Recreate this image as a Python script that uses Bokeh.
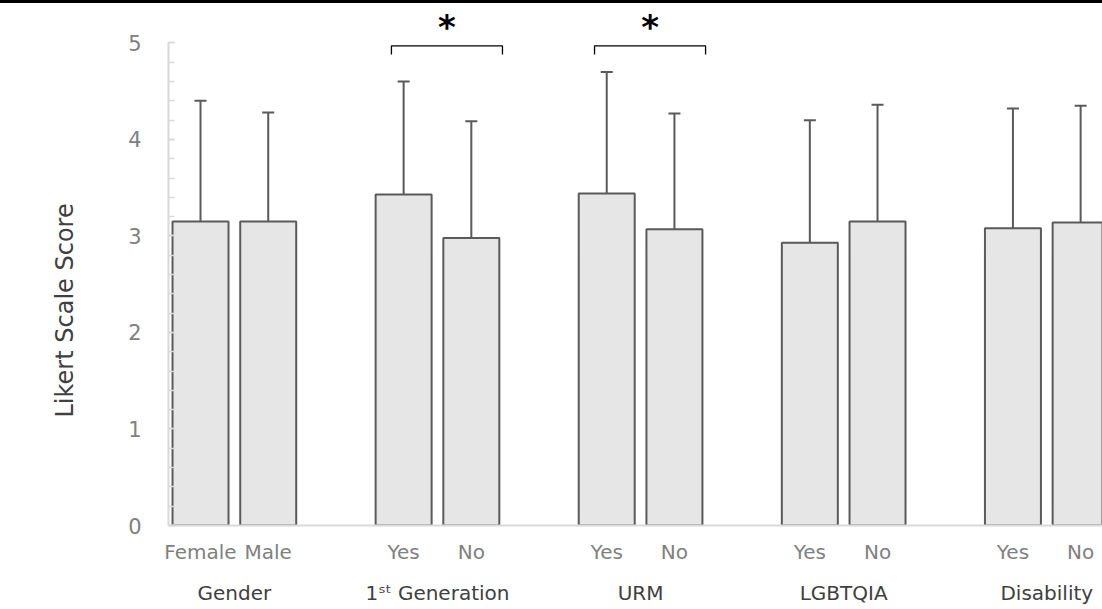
from bokeh.plotting import figure
from bokeh.models import (ColumnDataSource, Range1d, LinearAxis, FixedTicker, Title,
                          SingleIntervalTicker, Whisker, TeeHead, InlineStyleSheet)
from bokeh.core.properties import value
from bokeh.embed import file_html
from bokeh.resources import INLINE

# ---------------- data ----------------
groups = ["Gender", "1\u02e2\u1d57 Generation", "URM", "LGBTQIA", "Disability"]
subgroups = ["Female", "Male", "Yes", "No", "Yes", "No", "Yes", "No", "Yes", "No"]
means = [3.15, 3.15, 3.43, 2.98, 3.44, 3.07, 2.93, 3.15, 3.08, 3.14]
sds = [1.25, 1.13, 1.17, 1.21, 1.26, 1.20, 1.27, 1.21, 1.24, 1.21]
significant_groups = [1, 2]   # groups with a significant Yes/No difference

# ---------------- layout helpers ----------------
xs = [3 * (i // 2) + (i % 2) for i in range(len(subgroups))]
group_x = [3 * g + 0.5 for g in range(len(groups))]
upper = [m + s for m, s in zip(means, sds)]

FONT = "DejaVu Sans"
GRAY = "#808080"
DARK = "#404040"
BAR_LINE = "#5a5a5a"

p = figure(width=1102, height=609, output_backend="svg", toolbar_location=None,
           x_range=Range1d(-0.473, 13.323), y_range=Range1d(0, 5.44),
           min_border_left=168, min_border_right=0, min_border_top=0,
           min_border_bottom=84, outline_line_color=None)
p.grid.visible = False
p.stylesheets = [InlineStyleSheet(css=":host::before{content:'';position:fixed;left:0;top:0;"
                                      "width:100vw;height:3px;background:#000;z-index:100;}")]

src = ColumnDataSource(dict(x=xs, top=means, upper=upper))
p.vbar(x="x", top="top", bottom=0, width=0.827, source=src,
       fill_color="#e6e6e6", line_color=BAR_LINE, line_width=2)

p.add_layout(Whisker(source=src, base="x", lower="top", upper="upper",
                     line_color=BAR_LINE, line_width=2,
                     upper_head=TeeHead(size=12, line_color=BAR_LINE, line_width=2),
                     lower_head=None))

# significance brackets
bx, by, sx = [], [], []
b_top, b_drop = 4.97, 0.09
for g in significant_groups:
    xl = xs[2 * g] - 0.18
    xr = xs[2 * g + 1] + 0.46
    bx.append([xl, xl, xr, xr])
    by.append([b_top - b_drop, b_top, b_top, b_top - b_drop])
    sx.append((xl + xr) / 2)
p.multi_line(xs=bx, ys=by, line_color="black", line_width=1.3)
p.text(x=sx, y=[5.17] * len(sx), text=["*"] * len(sx), text_font=value("DejaVu Sans"),
       text_font_size="34px", text_font_style="bold", text_align="center",
       text_baseline="middle", text_color="black")

# y axis
ya = p.yaxis[0]
ya.ticker = SingleIntervalTicker(interval=1, num_minor_ticks=5)
ya.bounds = (0, 5)
ya.axis_line_color = "#d9d9d9"
ya.axis_line_width = 2
ya.major_tick_in = 6
ya.major_tick_out = 0
ya.minor_tick_in = 6
ya.minor_tick_out = 0
ya.major_tick_line_color = "#d9d9d9"
ya.minor_tick_line_color = "#d9d9d9"
ya.major_tick_line_width = 1.5
ya.minor_tick_line_width = 1.5
ya.major_label_standoff = 27
ya.major_label_text_font = FONT
ya.major_label_text_font_size = "21px"
ya.major_label_text_color = GRAY

# y axis title (placed as a side title so it can sit off-centre like the original)
p.add_layout(Title(text="Likert Scale Score", align="left", offset=108, standoff=93,
                   vertical_align="bottom", text_font=FONT, text_font_size="24px",
                   text_font_style="normal", text_color=DARK), "left")

# x axis: subgroup labels
xa = p.xaxis[0]
xa.ticker = FixedTicker(ticks=xs)
xa.major_label_overrides = {x: s for x, s in zip(xs, subgroups)}
xa.axis_line_color = "#d9d9d9"
xa.axis_line_width = 2
xa.major_tick_line_color = None
xa.minor_tick_line_color = None
xa.major_tick_in = 0
xa.major_tick_out = 0
xa.major_label_standoff = 14
xa.major_label_text_font = FONT
xa.major_label_text_font_size = "20px"
xa.major_label_text_color = GRAY
xa.major_label_text_line_height = 1.0

# x axis: group labels
ga = LinearAxis(ticker=FixedTicker(ticks=group_x),
                major_label_overrides={x: g for x, g in zip(group_x, groups)})
ga.axis_line_color = None
ga.major_tick_line_color = None
ga.minor_tick_line_color = None
ga.major_tick_in = 0
ga.major_tick_out = 0
ga.major_label_standoff = 14
ga.major_label_text_font = FONT
ga.major_label_text_font_size = "20px"
ga.major_label_text_color = DARK
ga.major_label_text_line_height = 1.0
p.add_layout(ga, "below")

open("out.html", "w").write(file_html(p, INLINE))
